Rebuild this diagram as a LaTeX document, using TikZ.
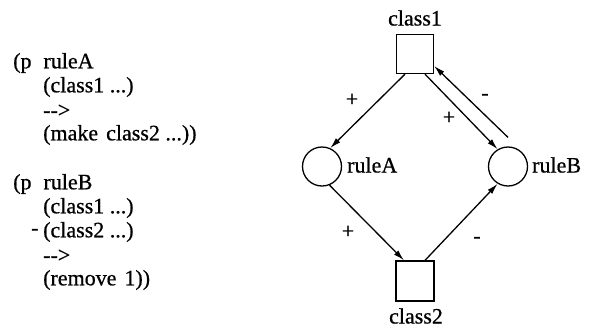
\documentclass[tikz,border=0pt]{standalone}
\usepackage{fontspec}
\setmainfont{Liberation Serif}[FakeBold=0.7]
\usetikzlibrary{arrows.meta}
\begin{document}
\begin{tikzpicture}[x=1pt,y=-1pt,
  txt/.style={font=\fontsize{22}{26}\selectfont, inner sep=0pt, anchor=west},
  lbl/.style={font=\fontsize{22}{26}\selectfont, inner sep=0pt},
  cls/.style={draw, line width=1.3pt, minimum width=37pt, minimum height=39pt, inner sep=0pt},
  rul/.style={draw, circle, line width=1.3pt, minimum size=39pt, inner sep=0pt},
  arr/.style={line width=1.3pt, -{Latex[length=11pt,width=6pt]}},
  sgn/.style={font=\fontsize{22}{26}\selectfont, inner sep=0pt}]
\useasboundingbox (0,0) rectangle (592,327);
% left code
\node[txt] (l1) at (13,63) {(p\hspace{12pt}ruleA};
\node[txt] (l2) at (43,87) {(class1 ...)};
\node[txt] (l3) at (43,111) {-{}->};
\node[txt] (l4) at (43,135) {(make\hspace{8pt}class2 ...))};
\node[txt] (l5) at (13,184) {(p\hspace{12pt}ruleB};
\node[txt] (l6) at (43,208) {(class1 ...)};
\node[txt] (l7m) at (31,232) {-};
\node[txt] (l7) at (43,232) {(class2 ...)};
\node[txt] (l8) at (43,256) {-{}->};
\node[txt] (l9) at (43,280) {(remove\hspace{8pt}1))};
% graph
\node[cls] (c1) at (415,54) {};
\node[lbl] (c1l) at (415,18) {class1};
\node[cls, minimum width=38pt, minimum height=40pt] (c2) at (415,281) {};
\node[lbl] (c2l) at (416,316) {class2};
\node[rul] (rA) at (322,166.5) {};
\node[txt] (rAl) at (347,165) {ruleA};
\node[rul] (rB) at (508,166.5) {};
\node[txt] (rBl) at (532,165) {ruleB};
\coordinate (rBs) at ([yshift=9pt]rB.north);
\draw[arr] ([xshift=-10pt]c1.south) -- (rA.66);
\draw[arr] ([xshift=10pt]c1.south) -- (rB.121);
\draw[arr] (rBs) -- ([yshift=-12pt]c1.east);
\draw[arr] (rA.-68) -- ([xshift=-11pt]c2.north);
\draw[arr] ([xshift=10pt]c2.north) -- (rB.-121);
\node[sgn] (s1) at (352,100) {+};
\node[sgn] (s2) at (449,118) {+};
\node[sgn] (s3) at (485,97) {-};
\node[sgn] (s4) at (348,232) {+};
\node[sgn] (s5) at (477,240) {-};
\end{tikzpicture}
\end{document}
